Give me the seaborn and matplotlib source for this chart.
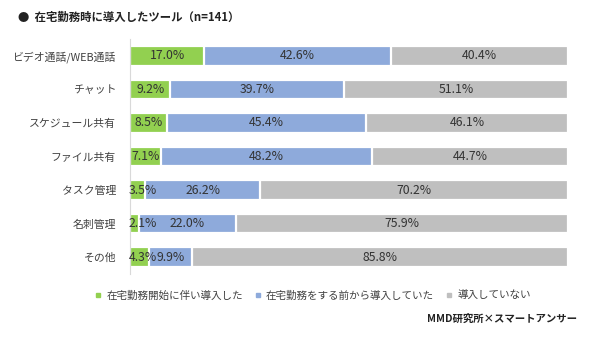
import matplotlib
matplotlib.use("Agg")
import matplotlib.pyplot as plt
from matplotlib.lines import Line2D
import seaborn as sns
import pandas as pd

# data
tools = ["ビデオ通話/WEB通話", "チャット", "スケジュール共有", "ファイル共有",
         "タスク管理", "名刺管理", "その他"]
new_intro = [17.0, 9.2, 8.5, 7.1, 3.5, 2.1, 4.3]
before = [42.6, 39.7, 45.4, 48.2, 26.2, 22.0, 9.9]
not_used = [40.4, 51.1, 46.1, 44.7, 70.2, 75.9, 85.8]
series = ["在宅勤務開始に伴い導入した", "在宅勤務をする前から導入していた", "導入していない"]
colors = ["#92d050", "#8eaadb", "#bfbfbf"]

df = pd.DataFrame({"tool": tools, "new": new_intro, "before": before, "none": not_used})
df["c1"] = df["new"]
df["c2"] = df["new"] + df["before"]
df["c3"] = df["c2"] + df["none"]

sns.set_style("white")
plt.rcParams["font.family"] = ["Noto Sans CJK JP", "DejaVu Sans"]
txt = "#404040"

fig = plt.figure(figsize=(5.9, 3.38), dpi=100)
ax = fig.add_axes([0.2203, 0.1893, 0.7424, 0.6953])

# stacked bars drawn back to front
for col, c in zip(["c3", "c2", "c1"], colors[::-1]):
    sns.barplot(data=df, x=col, y="tool", color=c, orient="h", width=0.58,
                edgecolor="white", linewidth=1.6, ax=ax, saturation=1)

for i, row in df.iterrows():
    segs = [(0, row["new"]), (row["c1"], row["before"]), (row["c2"], row["none"])]
    for j, (start, w) in enumerate(segs):
        label = f"{w:.1f}%"
        if j == 0 and w < 5:
            ax.text(-0.3, i, label, ha="left", va="center", fontsize=8.8, color="#333333")
        else:
            ax.text(start + w / 2, i, label, ha="center", va="center", fontsize=8.8,
                    color="#333333")

ax.set_xlim(0, 100)
ax.set_ylim(6.5, -0.5)
ax.set_xlabel("")
ax.set_ylabel("")
ax.set_xticks([])
ax.tick_params(axis="y", length=0, labelsize=7.8, labelcolor=txt, pad=10)
for s in ["top", "right", "bottom"]:
    ax.spines[s].set_visible(False)
ax.spines["left"].set_color("#d9d9d9")
ax.spines["left"].set_linewidth(0.8)

fig.text(0.03, 0.95, "●  在宅勤務時に導入したツール（n=141）", fontsize=8.2,
         fontweight="bold", color="#222222", va="center")

handles = [Line2D([], [], marker="s", linestyle="", markersize=3.5, color=c) for c in colors]
fig.legend(handles, series, loc="center", bbox_to_anchor=(0.531, 0.125), ncol=3,
           frameon=False, fontsize=7.6, handlelength=0.5, handletextpad=0.5,
           columnspacing=1.2, labelcolor=txt)

fig.text(0.978, 0.056, "MMD研究所×スマートアンサー", fontsize=7.5, fontweight="bold",
         color="#222222", ha="right", va="center")

fig.savefig("out.png", dpi=100)
